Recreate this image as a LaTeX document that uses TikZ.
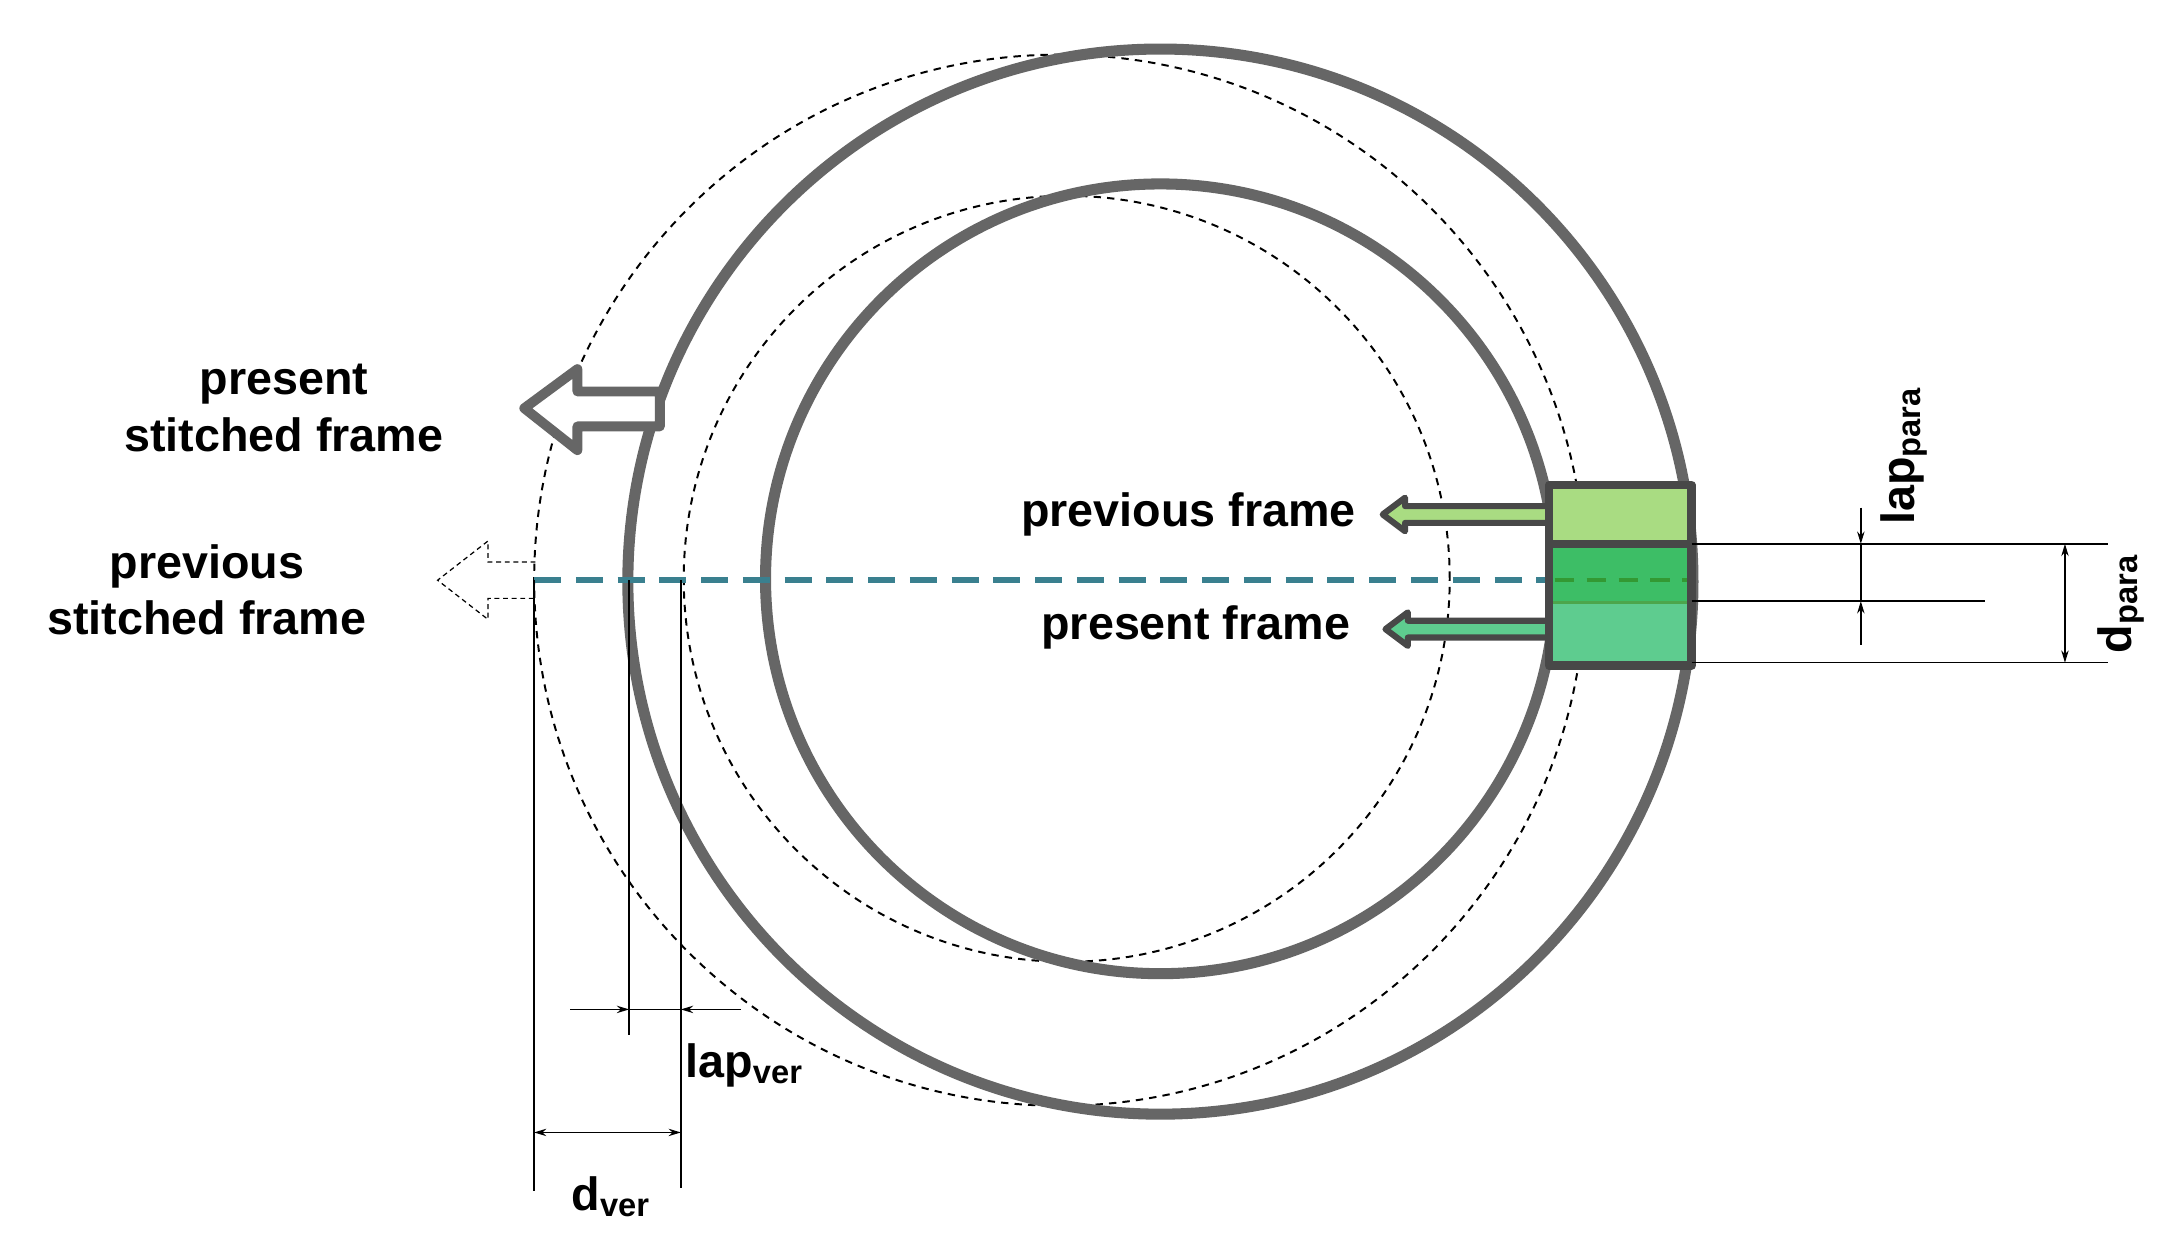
\documentclass[tikz,border=0pt]{standalone}
\usepackage{fontspec}
\setmainfont{Liberation Sans}
\usetikzlibrary{arrows.meta}
\definecolor{ring}{HTML}{666666}
\definecolor{boxline}{HTML}{484848}
\definecolor{teal1}{HTML}{3A808F}
\definecolor{lg}{HTML}{A9DC82}
\definecolor{mg}{HTML}{3DBE66}
\definecolor{bg}{HTML}{5ECC8F}
\tikzset{
 solidring/.style={draw=ring,line width=4.5pt},
 dotring/.style={draw=black,line width=0.8pt,dash pattern=on 3pt off 2.5pt},
 dimline/.style={draw=black,line width=0.6pt},
 dimarrow/.style={dimline,-{Stealth[length=5pt,width=3pt]}},
 lbl/.style={font=\fontsize{19}{23}\selectfont\bfseries,inner sep=0pt},
}
\begin{document}
\begin{tikzpicture}[x=0.02cm,y=-0.02cm]
\useasboundingbox[fill=white] (0,0) rectangle (1560,895);
% dotted circles
\draw[dotring] (758,415) circle[radius=7.52cm];
\draw[dotring] (763,414) circle[radius=5.48cm];
% solid rings
\draw[solidring] (830,416) circle[radius=7.62cm];
\draw[solidring] (830,414) circle[radius=5.65cm];
% dashed centre line
\draw[teal1,line width=2.2pt,dash pattern=on 11pt off 6pt] (382,415) -- (1108,415);
% box
\fill[lg] (1108,347) rectangle (1210,389);
\fill[mg] (1108,389) rectangle (1210,431);
\fill[bg] (1108,431) rectangle (1210,476);
\draw[green!50!black!70,line width=1.2pt] (1108,431) -- (1210,431);
\draw[green!50!black!80,line width=1.5pt,dash pattern=on 8pt off 5pt] (1112,415) -- (1208,415);
\draw[boxline,line width=3.5pt,line join=round] (1108,347) rectangle (1210,476) (1108,389) -- (1210,389);
% green arrows
\draw[boxline,line width=2.5pt,fill=lg,line join=round] (1105,362) -- (1005,362) -- (1005,356) -- (989,368) -- (1005,380) -- (1005,374) -- (1105,374);
\draw[boxline,line width=2.5pt,fill=bg,line join=round] (1105,444) -- (1007,444) -- (1007,438) -- (991,450) -- (1007,462) -- (1007,456) -- (1105,456);
% present stitched frame hollow arrow
\draw[ring,line width=4pt,fill=white,line join=round] (472,280) -- (413,280) -- (413,264) -- (375,292) -- (413,322) -- (413,305) -- (472,305) -- cycle;
% previous stitched frame dotted arrow
\draw[black,line width=0.5pt,dash pattern=on 2pt off 1.5pt] (383,402) -- (349,402) -- (349,387) -- (313,415) -- (349,443) -- (349,428) -- (383,428);
% vertical dimension lines
\draw[dimline] (382,415) -- (382,852);
\draw[dimline] (450,415) -- (450,740);
\draw[dimline] (487,415) -- (487,850);
\coordinate (lvA) at (408,722); \coordinate (lvB) at (530,722);
\draw[dimarrow] (lvA) -- (450,722);
\draw[dimarrow] (lvB) -- (487,722);
\draw[dimline] (450,722) -- (487,722);
\draw[dimline,{Stealth[length=5pt,width=3pt]}-{Stealth[length=5pt,width=3pt]}] (382,810) -- (487,810);
\node[lbl,anchor=west] (lapver) at (490,762) {lap\textsubscript{ver}};
\node[lbl] (dver) at (437,856) {d\textsubscript{ver}};
% right dimensions
\draw[dimline] (1210,389) -- (1508,389);
\draw[dimline] (1210,430) -- (1420,430);
\draw[dimline] (1210,474) -- (1508,474);
\draw[dimarrow] (1331,363) -- (1331,389);
\draw[dimarrow] (1331,461) -- (1331,430);
\draw[dimline] (1331,389) -- (1331,430);
\draw[dimline,{Stealth[length=5pt,width=3pt]}-{Stealth[length=5pt,width=3pt]}] (1477,389) -- (1477,474);
\node[lbl,rotate=90] (lappara) at (1362,326) {lap\textsubscript{para}};
\node[lbl,rotate=90] (dpara) at (1517,432) {d\textsubscript{para}};
% labels
\node[lbl,align=center] (psf) at (203,292) {present\\stitched frame};
\node[lbl,align=center] (prsf) at (148,422) {previous\\stitched frame};
\node[lbl,anchor=east] (pf) at (970,368) {previous frame};
\node[lbl,anchor=east] (cf) at (966,449) {present frame};
\end{tikzpicture}
\end{document}
